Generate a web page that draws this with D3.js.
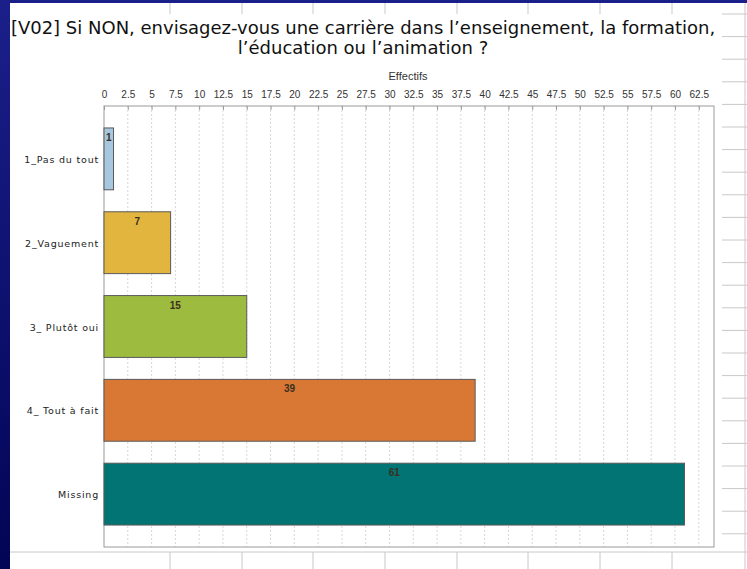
<!DOCTYPE html>
<meta charset="utf-8" />
<script src="https://d3js.org/d3.v7.min.js"></script>
<style>
  body { margin: 0; background: #fff; }
</style>
<body>
<div id="chart"></div>
<script>
  // data
  const categories = ["1_Pas du tout", "2_Vaguement", "3_ Plutôt oui", "4_ Tout à fait", "Missing"];
  const counts = [1, 7, 15, 39, 61];
  const barColors = ["#a7c7df", "#e2b53e", "#9dbb3f", "#d97734", "#027473"];
  const tickValues = d3.range(0, 63, 2.5);

  const W = 747, H = 569;
  const svg = d3.select("#chart").append("svg")
    .attr("width", W).attr("height", H)
    .style("display", "block");

  // spreadsheet backdrop
  const sheetCols = [170, 242, 313, 385, 457, 528, 600, 672];
  svg.selectAll("line.colTop").data(sheetCols).enter().append("line")
    .attr("x1", d => d).attr("x2", d => d).attr("y1", 0).attr("y2", 14)
    .attr("stroke", "#c8c8c8");
  svg.selectAll("line.colBot").data(sheetCols).enter().append("line")
    .attr("x1", d => d).attr("x2", d => d).attr("y1", 552).attr("y2", H)
    .attr("stroke", "#c8c8c8");
  svg.append("line").attr("x1", 10).attr("x2", W).attr("y1", 552).attr("y2", 552)
    .attr("stroke", "#c8c8c8");
  svg.selectAll("line.row").data(d3.range(14, 552, 22.6)).enter().append("line")
    .attr("x1", 722).attr("x2", W).attr("y1", d => d).attr("y2", d => d)
    .attr("stroke", "#c8c8c8");
  svg.append("line").attr("x1", 745).attr("x2", 745).attr("y1", 0).attr("y2", H)
    .attr("stroke", "#c8c8c8");

  // dark blue frame (slide border)
  const grad = svg.append("defs").append("linearGradient")
    .attr("id", "blue").attr("x1", 0).attr("x2", 0).attr("y1", 0).attr("y2", 1);
  grad.append("stop").attr("offset", "0%").attr("stop-color", "#1b1f8a");
  grad.append("stop").attr("offset", "100%").attr("stop-color", "#020455");
  svg.append("rect").attr("x", 0).attr("y", 0).attr("width", 10).attr("height", H)
    .attr("fill", "url(#blue)");
  svg.append("rect").attr("x", 0).attr("y", 0).attr("width", W).attr("height", 3)
    .attr("fill", "#1b1f8a");

  // title
  const title = svg.append("text")
    .attr("x", 363).attr("text-anchor", "middle")
    .style("font-family", "DejaVu Sans")
    .style("font-size", "18px")
    .attr("fill", "#111");
  title.append("tspan").attr("x", 363).attr("y", 34)
    .text("[V02] Si NON, envisagez-vous une carrière dans l’enseignement, la formation,");
  title.append("tspan").attr("x", 363).attr("y", 54)
    .text("l’éducation ou l’animation ?");

  // plot area
  const pLeft = 104, pRight = 714, pTop = 106, pBottom = 547;
  const x = d3.scaleLinear().domain([0, 64.1]).range([pLeft, pRight]);
  const y = d3.scaleBand().domain(categories).range([pTop, pBottom])
    .paddingInner(0.262).paddingOuter(0.262);

  // dotted gridlines
  svg.selectAll("line.grid").data(tickValues.slice(1)).enter().append("line")
    .attr("x1", d => x(d)).attr("x2", d => x(d))
    .attr("y1", pTop).attr("y2", pBottom)
    .attr("stroke", "#d6d6d6").attr("stroke-dasharray", "2,2");

  svg.append("rect")
    .attr("x", pLeft).attr("y", pTop)
    .attr("width", pRight - pLeft).attr("height", pBottom - pTop)
    .attr("fill", "none").attr("stroke", "#9a9a9a");

  // top axis
  const axis = svg.append("g")
    .attr("transform", "translate(0," + pTop + ")")
    .call(d3.axisTop(x).tickValues(tickValues).tickSize(-4).tickPadding(8)
      .tickFormat(d => String(d)));
  axis.select(".domain").remove();
  axis.selectAll("line").attr("stroke", "#999");
  axis.selectAll("text")
    .style("font-family", "Arial, Liberation Sans")
    .style("font-size", "10px")
    .attr("fill", "#333");

  svg.append("text")
    .attr("x", 408).attr("y", 80).attr("text-anchor", "middle")
    .style("font-family", "Arial, Liberation Sans")
    .style("font-size", "11px")
    .attr("fill", "#333")
    .text("Effectifs");

  // category labels
  svg.selectAll("text.cat").data(categories).enter().append("text")
    .attr("x", 99)
    .attr("y", d => y(d) + y.bandwidth() / 2 + 4)
    .attr("text-anchor", "end")
    .style("font-family", "DejaVu Sans")
    .style("font-size", "9.5px")
    .style("letter-spacing", "0.8px")
    .attr("fill", "#222")
    .text(d => d);

  // bars
  svg.selectAll("rect.bar").data(counts).enter().append("rect")
    .attr("x", x(0))
    .attr("y", (d, i) => y(categories[i]))
    .attr("width", d => x(d) - x(0))
    .attr("height", y.bandwidth())
    .attr("fill", (d, i) => barColors[i])
    .attr("stroke", "#5a5a5a");

  svg.selectAll("text.val").data(counts).enter().append("text")
    .attr("x", d => (x(0) + x(d)) / 2)
    .attr("y", (d, i) => y(categories[i]) + 13)
    .attr("text-anchor", "middle")
    .style("font-family", "Arial, Liberation Sans")
    .style("font-size", "10px")
    .style("font-weight", "bold")
    .attr("fill", "#3a3020")
    .text(d => d);
</script>
</body>
